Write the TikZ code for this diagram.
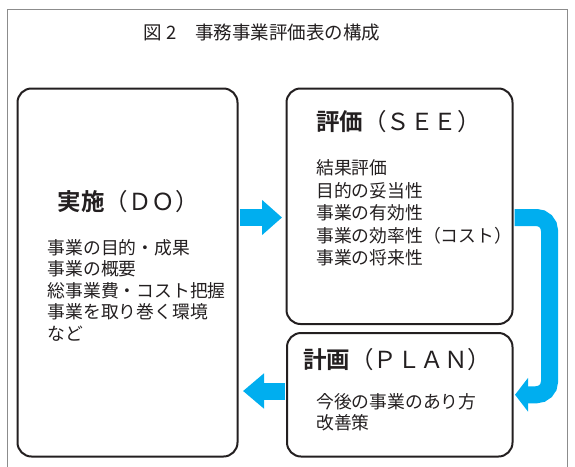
\documentclass[tikz,border=0pt]{standalone}
\usepackage{fontspec}
\newfontfamily\jp{Noto Sans CJK JP}
\newfontfamily\jpb{Noto Sans CJK JP Bold}
\usetikzlibrary{arrows.meta}
\definecolor{ink}{HTML}{231F20}
\definecolor{arrowblue}{HTML}{00AEEF}
\definecolor{framegray}{HTML}{8C8C8C}
\begin{document}
\begin{tikzpicture}[x=1pt,y=-1pt,
  box/.style={draw=ink, line width=2pt, rounded corners=14pt, anchor=north west, inner sep=0pt},
  heading/.style={anchor=west, inner sep=0pt, text=ink, font=\jp\fontsize{23.5}{27}\selectfont},
  items/.style={anchor=west, inner sep=0pt, text=ink, align=left},
  titletext/.style={inner sep=0pt, text=ink, font=\jp\fontsize{18.5}{22}\selectfont},
  flow/.style={draw=arrowblue, line width=17pt},
]
\useasboundingbox (0,0) rectangle (575,466);
\clip (0,0) rectangle (575,466);
\draw[framegray, line width=1pt] (7.5,480) -- (7.5,9.5) -- (567,9.5) -- (567,480);

\node[titletext] (title) at (262,33) {図 2　事務事業評価表の構成};

\node[box, minimum width=220pt, minimum height=368pt] (do) at (16.5,87.5) {};
\node[box, minimum width=226pt, minimum height=235.5pt] (see) at (285.5,87.5) {};
\node[box, minimum width=225.5pt, minimum height=123.5pt] (plan) at (286,332) {};

\node[heading] (doh) at (57.5,201.7) {{\jpb 実施}（ＤＯ）};
\node[items, font=\jp\fontsize{17.8}{21.5}\selectfont] (dol) at (47.5,290)
  {事業の目的・成果\\事業の概要\\総事業費・コスト把握\\事業を取り巻く環境\\など};

\node[heading] (seeh) at (316,121.7) {{\jpb 評価}（ＳＥＥ）};
\node[items, font=\jp\fontsize{17.8}{22.5}\selectfont] (seel) at (316,213)
  {結果評価\\目的の妥当性\\事業の有効性\\事業の効率性（コスト）\\事業の将来性};

\node[heading] (planh) at (303,360) {{\jpb 計画}（ＰＬＡＮ）};
\node[items, font=\jp\fontsize{17.8}{20.5}\selectfont] (planl) at (316,412)
  {今後の事業のあり方\\改善策};

\coordinate (a1) at ([xshift=1pt,yshift=55pt]do.east);
\draw[flow, -{Triangle[length=20pt,width=34pt]}, shorten >=3.5pt] (a1) -- (a1 -| see.west);

\coordinate (a2) at ([xshift=1pt,yshift=-11.25pt]see.east);
\draw[flow, rounded corners=13pt, -{Triangle[length=13pt,width=33pt]}, shorten >=1.5pt]
  (a2) -- ++(35,0) |- (plan.east);

\coordinate (a3) at ([xshift=-1pt,yshift=3.75pt]plan.west);
\draw[flow, -{Triangle[length=21pt,width=34pt]}, shorten >=4.5pt] (a3) -- (a3 -| do.east);
\end{tikzpicture}
\end{document}
